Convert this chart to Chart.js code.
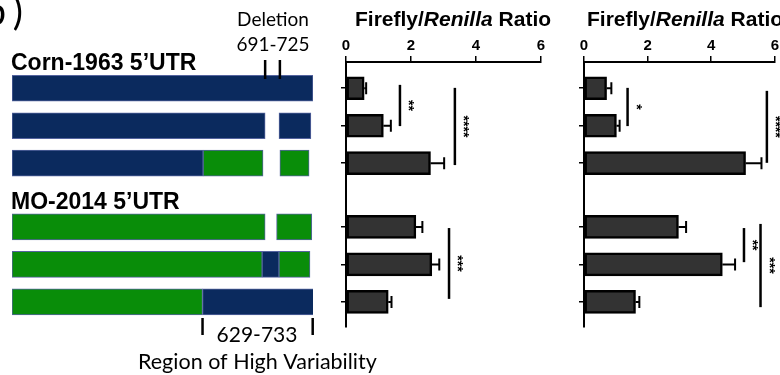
<!DOCTYPE html>
<html>
<head>
<meta charset="utf-8">
<script src="https://cdn.jsdelivr.net/npm/chart.js@4.4.1/dist/chart.umd.min.js"></script>
<style>
  html, body { margin: 0; padding: 0; background: #fff; overflow: hidden; }
  #wrap { position: relative; width: 780px; height: 375px; }
  canvas { position: absolute; top: 0; }
</style>
</head>
<body>
<div id="wrap">
  <canvas id="diagram" width="390" height="375" style="left:0"></canvas>
  <canvas id="chartA" width="260" height="375" style="left:300px"></canvas>
  <canvas id="chartB" width="240" height="375" style="left:540px"></canvas>
</div>
<script>
// row positions (shared by diagram and both bar charts)
const rowNames = ['Corn-1963', 'Corn-1963 del691-725', 'Corn-1963 + MO 629-733',
                  'MO-2014', 'MO-2014 + Corn 691-725', 'MO-2014 + Corn 629-733'];
const rowPos = [0.7, 1.7, 2.7, 4.4, 5.4, 6.4];

// Firefly/Renilla ratio, panel 1 and panel 2
const ratioA = [0.56, 1.15, 2.60, 2.15, 2.64, 1.30];
const errA   = [0.06, 0.23, 0.42, 0.20, 0.23, 0.10];
const ratioB = [0.71, 1.02, 5.08, 2.97, 4.35, 1.62];
const errB   = [0.15, 0.10, 0.50, 0.24, 0.40, 0.12];
const xTicks = [0, 2, 4, 6];

// significance brackets (y range in row units, x in ratio units)
const sigAFrom  = [0.61, 0.69, 4.43];
const sigATo    = [1.71, 2.75, 6.32];
const sigAX     = [1.66, 3.35, 3.17];
const sigALabel = ['**', '****', '***'];
const sigBFrom  = [0.69, 0.77, 4.43, 4.32];
const sigBTo    = [1.71, 2.69, 5.34, 6.54];
const sigBX     = [1.37, 5.75, 5.03, 5.55];
const sigBLabel = ['*', '****', '**', '***'];

// UTR diagram segments (relative position 0-100 along the 5'UTR)
const segRow   = [0, 1, 1, 2, 2, 2, 3, 3, 4, 4, 4, 5, 5];
const segStart = [0, 0, 88.7, 0, 63.5, 89.0, 0, 87.9, 0, 83.1, 88.7, 0, 63.3];
const segEnd   = [100, 84.1, 99.3, 63.5, 83.4, 98.7, 84.1, 99.6, 83.1, 88.7, 99.0, 63.3, 100.3];
const segSrc   = ['corn', 'corn', 'corn', 'corn', 'mo', 'mo', 'mo', 'mo', 'mo', 'corn', 'mo', 'mo', 'corn'];

const NAVY = '#0b2a5e';
const GREEN = '#098d09';
const YMAX = 7.07;

Chart.defaults.font.family = '"Liberation Sans", Arial, sans-serif';

const diagramText = {
  id: 'diagramText',
  afterDatasetsDraw(chart) {
    const { ctx, scales: { x, y } } = chart;
    ctx.save();
    ctx.fillStyle = '#000';
    ctx.strokeStyle = '#000';
    ctx.lineWidth = 2.5;
    // deletion marks
    [84.1, 89.0].forEach(v => {
      const px = x.getPixelForValue(v);
      ctx.beginPath(); ctx.moveTo(px, 60); ctx.lineTo(px, 79); ctx.stroke();
    });
    // high variability marks
    [63.3, 99.9].forEach(v => {
      const px = x.getPixelForValue(v);
      ctx.beginPath(); ctx.moveTo(px, 318); ctx.lineTo(px, 335); ctx.stroke();
    });
    ctx.textBaseline = 'alphabetic';
    ctx.font = '38px Lato, "Open Sans", sans-serif';
    ctx.textAlign = 'right';
    ctx.fillText(')', 23, 25);
    ctx.fillText('b', 6, 25);
    ctx.textBaseline = 'middle';
    ctx.textAlign = 'center';
    ctx.font = '19px Lato, "Open Sans", sans-serif';
    ctx.fillText('Deletion', 273, 20);
    ctx.fillText('691-725', 273, 45);
    ctx.font = '21px Lato, "Open Sans", sans-serif';
    ctx.fillText('629-733', 257, 335);
    ctx.textAlign = 'left';
    ctx.font = '21.5px Lato, "Open Sans", sans-serif';
    ctx.fillText('Region of High Variability', 138, 362);
    ctx.font = 'bold 23px "Liberation Sans", Arial, sans-serif';
    ctx.fillText('Corn-1963 5\u2019UTR', 11, 64);
    ctx.fillText('MO-2014 5\u2019UTR', 11, 203);
    ctx.restore();
  }
};

new Chart(document.getElementById('diagram'), {
  type: 'bar',
  data: {
    labels: segRow.map(r => rowNames[r]),
    datasets: [{
      data: segRow.map((r, i) => ({ x: [segStart[i], segEnd[i]], y: rowPos[r] })),
      backgroundColor: segSrc.map(s => s === 'corn' ? NAVY : GREEN),
      borderColor: '#55649f',
      borderWidth: 1,
      borderSkipped: false,
      barThickness: 26
    }]
  },
  options: {
    indexAxis: 'y',
    responsive: false,
    animation: false,
    layout: { padding: { left: 12, right: 77, top: 62, bottom: 48 } },
    scales: {
      x: { type: 'linear', display: false, min: 0, max: 100 },
      y: { type: 'linear', display: false, min: 0, max: YMAX, reverse: true, offset: false, grid: { offset: false } }
    },
    plugins: { legend: { display: false }, tooltip: { enabled: false } }
  },
  plugins: [diagramText]
});

const extras = {
  id: 'extras',
  afterDatasetsDraw(chart, args, opts) {
    const { ctx, chartArea, scales: { x, y } } = chart;
    ctx.save();
    ctx.strokeStyle = '#000';
    ctx.fillStyle = '#000';
    // error bars
    ctx.lineWidth = 2;
    opts.vals.forEach((v, i) => {
      const yp = y.getPixelForValue(rowPos[i]);
      const x0 = x.getPixelForValue(v);
      const x1 = x.getPixelForValue(v + opts.errs[i]);
      ctx.beginPath();
      ctx.moveTo(x0, yp); ctx.lineTo(x1, yp);
      ctx.moveTo(x1, yp - 6); ctx.lineTo(x1, yp + 6);
      ctx.stroke();
    });
    // significance
    opts.sigX.forEach((sx, i) => {
      const xp = x.getPixelForValue(sx);
      const y0 = y.getPixelForValue(opts.sigFrom[i]);
      const y1 = y.getPixelForValue(opts.sigTo[i]);
      ctx.lineWidth = 2.5;
      ctx.beginPath(); ctx.moveTo(xp, y0); ctx.lineTo(xp, y1); ctx.stroke();
      ctx.save();
      ctx.translate(xp + 4, (y0 + y1) / 2);
      ctx.rotate(Math.PI / 2);
      ctx.font = 'bold 14px "Liberation Sans", Arial, sans-serif';
      ctx.textAlign = 'center';
      ctx.textBaseline = 'alphabetic';
      ctx.fillText(opts.sigLabel[i], 0, 0);
      ctx.restore();
    });
    // title: Firefly/Renilla Ratio
    ctx.textBaseline = 'middle';
    ctx.textAlign = 'left';
    let tx = chartArea.left + opts.titleOffset;
    const parts = [['Firefly/', 'bold'], ['Renilla', 'italic bold'], [' Ratio', 'bold']];
    parts.forEach(([t, w]) => {
      ctx.font = w + ' 21px "Liberation Sans", Arial, sans-serif';
      ctx.fillText(t, tx, 20);
      tx += ctx.measureText(t).width;
    });
    ctx.restore();
  }
};

function makeBars(id, vals, errs, sigFrom, sigTo, sigX, sigLabel, yWidth, padRight, titleOffset) {
  return new Chart(document.getElementById(id), {
    type: 'bar',
    data: {
      labels: rowNames,
      datasets: [{
        data: vals.map((v, i) => ({ x: v, y: rowPos[i] })),
        backgroundColor: '#333333',
        borderColor: '#000000',
        borderWidth: 2.5,
        borderSkipped: false,
        barThickness: 23
      }]
    },
    options: {
      indexAxis: 'y',
      responsive: false,
      animation: false,
      layout: { padding: { left: 0, right: padRight, top: 0, bottom: 48 } },
      scales: {
        x: {
          type: 'linear',
          position: 'top',
          min: 0, max: 6,
          afterBuildTicks: s => { s.ticks = xTicks.map(v => ({ value: v })); },
          afterFit: s => { s.height = 62; },
          ticks: { color: '#000', font: { size: 15, weight: 'bold' }, padding: 1, maxRotation: 0 },
          grid: { drawOnChartArea: false, color: '#000', lineWidth: 1.5, tickLength: 6 },
          border: { color: '#000', width: 2 }
        },
        y: {
          type: 'linear',
          min: 0, max: YMAX,
          reverse: true,
          offset: false,
          afterBuildTicks: s => { s.ticks = rowPos.map(v => ({ value: v })); },
          afterFit: s => { s.width = yWidth; },
          ticks: { callback: () => '', padding: 0 },
          grid: { offset: false, drawOnChartArea: false, color: '#000', lineWidth: 1.5, tickLength: 5 },
          border: { color: '#000', width: 2 }
        }
      },
      plugins: {
        legend: { display: false },
        tooltip: { enabled: false },
        extras: { vals, errs, sigFrom, sigTo, sigX, sigLabel, titleOffset }
      }
    },
    plugins: [extras]
  });
}

makeBars('chartA', ratioA, errA, sigAFrom, sigATo, sigAX, sigALabel, 46, 19, 9);
makeBars('chartB', ratioB, errB, sigBFrom, sigBTo, sigBX, sigBLabel, 44, 4, 3);
</script>
</body>
</html>
